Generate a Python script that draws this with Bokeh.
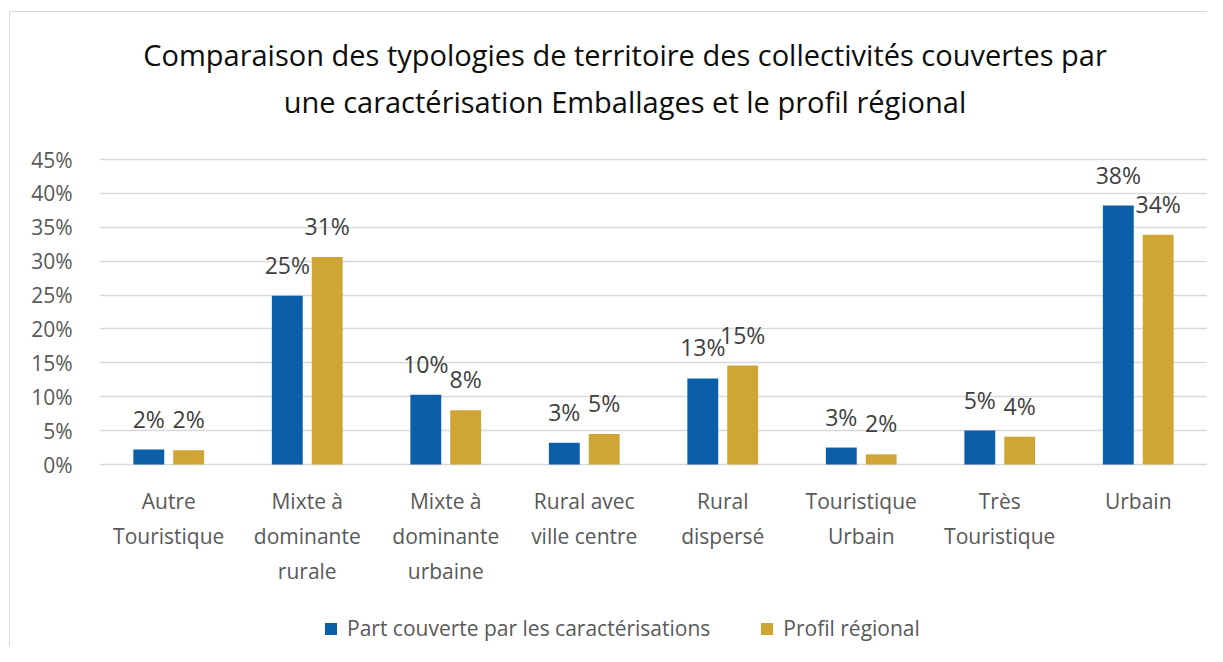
import math
from bokeh.plotting import figure
from bokeh.models import ColumnDataSource, FactorRange, Range1d, FixedTicker, Legend, LegendItem, PrintfTickFormatter
from bokeh.transform import dodge
from bokeh.core.properties import value
from bokeh.embed import file_html
from bokeh.resources import INLINE

# ---------------- data ----------------
categories = ["Autre Touristique", "Mixte à dominante rurale", "Mixte à dominante urbaine",
              "Rural avec ville centre", "Rural dispersé", "Touristique Urbain",
              "Très Touristique", "Urbain"]
category_labels = ["Autre\nTouristique", "Mixte à\ndominante\nrurale", "Mixte à\ndominante\nurbaine",
                   "Rural avec\nville centre", "Rural\ndispersé", "Touristique\nUrbain",
                   "Très\nTouristique", "Urbain"]
part_couverte = [2.2, 24.9, 10.3, 3.2, 12.7, 2.5, 5.0, 38.2]
profil_regional = [2.1, 30.6, 8.0, 4.5, 14.6, 1.5, 4.1, 33.9]
y_ticks = [0, 5, 10, 15, 20, 25, 30, 35, 40, 45]
series_names = ["Part couverte par les caractérisations", "Profil régional"]
title_lines = ["Comparaison des typologies de territoire des collectivités couvertes par",
               "une caractérisation Emballages et le profil régional"]

# ---------------- styling / layout ----------------
BLUE = "#0B5EA8"
GOLD = "#CFA536"
FONT = "Open Sans"
W, H = 1207, 646
LEFT, RIGHT = 99, 0
ZERO_Y = 464            # pixel row (from figure top) of the 0 % line
PX = 305 / 45           # pixels per percentage point
y_top = ZERO_Y / PX
y_bot = -(H - ZERO_Y) / PX

def pct(v):
    return f"{math.floor(v + 0.5)}%"

src = ColumnDataSource(dict(
    cat=categories,
    part=part_couverte,
    profil=profil_regional,
    part_lbl=[pct(v) for v in part_couverte],
    profil_lbl=[pct(v) for v in profil_regional],
))

p = figure(width=W, height=H, output_backend="svg", toolbar_location=None,
           x_range=FactorRange(*categories, range_padding=0),
           y_range=Range1d(y_bot, y_top),
           x_axis_location=None,
           min_border_left=LEFT, min_border_right=RIGHT,
           min_border_top=0, min_border_bottom=0)
p.outline_line_color = None
p.border_fill_color = None
p.background_fill_color = None
p.styles = {"background": ("linear-gradient(#D9D9D9,#D9D9D9) 9px 11px / 1px calc(100% - 11px) no-repeat, "
                           "linear-gradient(#D9D9D9,#D9D9D9) 9px 11px / calc(100% - 9px) 1px no-repeat, #FFFFFF")}

# grid
p.xgrid.grid_line_color = None
p.ygrid.ticker = FixedTicker(ticks=y_ticks)
p.ygrid.grid_line_color = "#D9D9D9"
p.ygrid.grid_line_width = 1.3

# y axis
ax = p.yaxis[0]
ax.ticker = FixedTicker(ticks=y_ticks)
ax.formatter = PrintfTickFormatter(format="%d%%")
ax.axis_line_color = None
ax.major_tick_line_color = None
ax.minor_tick_line_color = None
ax.major_tick_out = 0
ax.major_tick_in = 0
ax.major_label_standoff = 27
ax.major_label_text_font = FONT
ax.major_label_text_font_size = "21px"
ax.major_label_text_color = "#595959"

# bars
OFF = 0.144
BW = 0.223
r1 = p.vbar(x=dodge("cat", -OFF, range=p.x_range), top="part", width=BW, bottom=0,
            source=src, fill_color=BLUE, line_color=None)
r2 = p.vbar(x=dodge("cat", OFF, range=p.x_range), top="profil", width=BW, bottom=0,
            source=src, fill_color=GOLD, line_color=None)

# data labels
lbl_kw = dict(text_align="center", text_baseline="middle", y_offset=-31,
              text_font=value(FONT), text_font_size="23px", text_color="#404040")
p.text(x=dodge("cat", -OFF, range=p.x_range), y="part", text="part_lbl", source=src, **lbl_kw)
p.text(x=dodge("cat", OFF, range=p.x_range), y="profil", text="profil_lbl", source=src, **lbl_kw)

# category labels (one glyph per text line)
LINE_STEP = 35
FIRST_LINE = 36       # px below the 0 line to the centre of the first line
max_lines = max(len(s.split("\n")) for s in category_labels)
for i in range(max_lines):
    xs, ts = [], []
    for c, s in zip(categories, category_labels):
        parts = s.split("\n")
        if i < len(parts):
            xs.append(c)
            ts.append(parts[i])
    yv = -(FIRST_LINE + LINE_STEP * i) / PX
    p.text(x=xs, y=[yv] * len(xs), text=ts, text_align="center", text_baseline="middle",
           text_font=value(FONT), text_font_size="21px", text_color="#595959")

# title (two centred lines)
frame_w = W - LEFT - RIGHT
title_cx = (624.5 - LEFT) / (frame_w / len(categories))
title_centres = [54, 101]
for line, cy in zip(title_lines, title_centres):
    p.text(x=[title_cx], y=[(ZERO_Y - cy) / PX], text=[line], text_align="center",
           text_baseline="middle", text_font=value(FONT), text_font_size="29px",
           text_color="#0D0D0D")

# legend
legend = Legend(items=[LegendItem(label=series_names[0], renderers=[r1]),
                       LegendItem(label=series_names[1], renderers=[r2])],
                orientation="horizontal", location=(224, 4),
                glyph_width=15, glyph_height=15, label_standoff=9, spacing=49,
                padding=0, margin=0, border_line_color=None, background_fill_alpha=0,
                label_text_font=FONT, label_text_font_size="21px", label_text_color="#595959")
p.add_layout(legend, "center")

open("out.html", "w").write(file_html(p, INLINE))
